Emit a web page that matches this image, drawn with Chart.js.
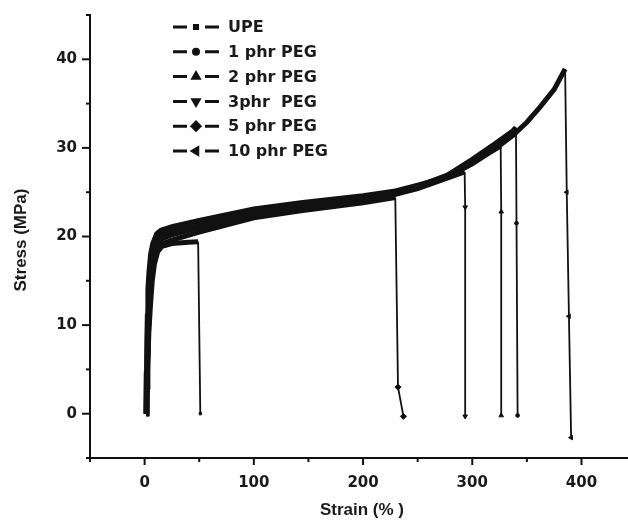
<!DOCTYPE html>
<html>
<head>
<meta charset="utf-8">
<script src="https://cdn.jsdelivr.net/npm/chart.js@4/dist/chart.umd.min.js"></script>
<style>
  body { margin: 0; background: #fff; }
  #wrap { width: 628px; height: 525px; }
</style>
</head>
<body>
<div id="wrap"><canvas id="chart" width="628" height="525"></canvas></div>
<script>
// Serien-Namen (Legende)
const seriesNames = ["UPE", "1 phr PEG", "2 phr PEG", "3phr  PEG", "5 phr PEG", "10 phr PEG"];

// Strain (%) / Stress (MPa)
const strainUPE = [1.5, 2, 3, 4, 5.5, 7, 9, 12, 16, 25, 40, 49, 51];
const stressUPE = [0, 2.5, 6, 9.5, 12.5, 15, 16.9, 18.3, 18.9, 19.2, 19.35, 19.4, 0];

const strain1 = [1.5, 2, 2.5, 3, 4, 5, 6.5, 8, 11, 15, 25, 50, 100, 143, 200, 228, 250, 277, 300, 320, 337, 340, 340.5, 341.5];
const stress1 = [0, 3.2, 6.5, 9.5, 12.5, 14.8, 16.8, 18.1, 19.2, 19.7, 20.2, 21, 22.4, 23.2, 24.1, 24.9, 25.6, 26.9, 28.7, 30.4, 31.9, 32.3, 21.5, -0.2];

const strain2 = [1.5, 2, 2.5, 3, 4, 5, 6.5, 8, 11, 15, 25, 50, 100, 143, 200, 228, 250, 277, 300, 320, 326, 326.5, 326.5];
const stress2 = [0, 4, 7.5, 10.5, 13.5, 15.6, 17.5, 18.8, 19.8, 20.3, 20.7, 21.5, 22.9, 23.6, 24.4, 25, 25.7, 26.9, 28.5, 29.8, 30.2, 22.8, -0.2];

const strain3 = [1.5, 2, 2.5, 3, 4, 5, 6.5, 8, 11, 15, 25, 50, 100, 143, 200, 228, 250, 277, 293, 293.5, 293.5];
const stress3 = [0, 3.5, 7, 10, 13, 15, 17, 18.3, 19.3, 19.8, 20.3, 21.1, 22.6, 23.3, 24.1, 24.7, 25.4, 26.6, 27.3, 23.3, -0.3];

const strain5 = [2, 2.5, 3, 3.5, 4.5, 5.5, 7, 9, 12, 15, 25, 50, 100, 143, 200, 229.5, 232, 237];
const stress5 = [0, 3, 6, 9, 12, 14.2, 16.3, 17.6, 18.7, 19.1, 19.6, 20.5, 22.1, 22.9, 23.8, 24.4, 3, -0.3];

const strain10 = [1, 1.5, 2, 2.5, 3, 4, 5.5, 7.5, 11, 15, 25, 50, 100, 143, 200, 228, 250, 277, 300, 320, 337, 350, 362, 375, 385, 386.5, 388.5, 390.5];
const stress10 = [0, 4.5, 8, 11, 14, 16, 18, 19.2, 20.3, 20.7, 21.1, 21.8, 23.1, 23.8, 24.6, 25.1, 25.8, 26.7, 28.2, 29.8, 31.4, 32.9, 34.6, 36.6, 38.9, 25, 11, -2.7];

const strainSets = [strainUPE, strain1, strain2, strain3, strain5, strain10];
const stressSets = [stressUPE, stress1, stress2, stress3, stress5, stress10];

// Marker je Serie
const markerStyles = ["rect", "circle", "triangle", "triangle", "rectRot", "triangle"];
const markerRotation = [0, 0, 0, 180, 0, -90];
const markerSize = [2.2, 2.5, 3.5, 3.5, 4, 3.5];

const ink = "#111";

function toPoints(xs, ys) {
  return xs.map((x, i) => ({ x: x, y: ys[i] }));
}

// Punkt nur nach dem Bruch anzeigen (wenn Spannung abfällt)
function radiusAfterBreak(ctx) {
  const d = ctx.dataset.data;
  const i = ctx.dataIndex;
  if (i > 0 && d[i].y < d[i - 1].y - 0.5) return markerSize[ctx.datasetIndex] * 0.75;
  return 0;
}

const datasets = seriesNames.map((name, k) => ({
  label: name,
  data: toPoints(strainSets[k], stressSets[k]),
  showLine: true,
  borderColor: ink,
  backgroundColor: ink,
  borderWidth: 5,
  pointStyle: markerStyles[k],
  rotation: markerRotation[k],
  pointRadius: radiusAfterBreak,
  pointBorderWidth: 1,
  tension: 0,
  segment: {
    borderWidth: ctx => (ctx.p1.parsed.y < ctx.p0.parsed.y - 0.5 ? 1.8 : 5)
  }
}));

// Ticks, Achsentitel und Legende selbst zeichnen
const decoPlugin = {
  id: 'deco',
  afterDraw(chart) {
    const c = chart.ctx;
    const xs = chart.scales.x;
    const ys = chart.scales.y;
    const area = chart.chartArea;
    c.save();
    c.strokeStyle = ink;
    c.lineWidth = 2;
    // x-Achse bis zum Bildrand verlaengern
    c.beginPath();
    c.moveTo(area.right - 1, area.bottom);
    c.lineTo(chart.width, area.bottom);
    c.stroke();
    xs.ticks.forEach(t => {
      if (t.value % 50 !== 0) return;
      const px = xs.getPixelForValue(t.value);
      const len = t.value % 100 === 0 ? 7 : 4;
      c.beginPath();
      c.moveTo(px, area.bottom);
      c.lineTo(px, area.bottom + len);
      c.stroke();
    });
    ys.ticks.forEach(t => {
      if (t.value % 5 !== 0) return;
      const py = ys.getPixelForValue(t.value);
      const len = t.value % 10 === 0 ? 8 : 4;
      c.beginPath();
      c.moveTo(area.left, py);
      c.lineTo(area.left - len, py);
      c.stroke();
    });

    // Achsentitel
    c.fillStyle = "#1a1a1a";
    c.font = "bold 17px 'Liberation Sans', Arial, sans-serif";
    c.textAlign = "center";
    c.textBaseline = "middle";
    c.fillText("Strain (% )", 362, 510);
    c.save();
    c.translate(21, 240);
    c.rotate(-Math.PI / 2);
    c.fillText("Stress (MPa)", 0, 0);
    c.restore();

    // Legende
    c.font = "bold 16px 'DejaVu Sans', sans-serif";
    c.textAlign = "left";
    chart.data.datasets.forEach((ds, i) => {
      const y = 27 + i * 24.8;
      c.lineWidth = 3;
      c.beginPath();
      c.moveTo(173, y);
      c.lineTo(187, y);
      c.moveTo(205, y);
      c.lineTo(219, y);
      c.stroke();
      c.fillStyle = ink;
      Chart.helpers.drawPoint(c, {
        pointStyle: markerStyles[i],
        rotation: markerRotation[i],
        radius: markerSize[i],
        borderWidth: 1
      }, 196, y);
      c.fillStyle = "#1a1a1a";
      c.fillText(ds.label, 228, y + 1);
    });
    c.restore();
  }
};

const tickFont = { family: "'DejaVu Sans', sans-serif", size: 15, weight: 'bold' };

new Chart(document.getElementById('chart'), {
  type: 'scatter',
  data: { datasets: datasets },
  options: {
    responsive: false,
    animation: false,
    layout: { padding: { top: 15, right: 0, left: 0, bottom: 0 } },
    plugins: { legend: { display: false }, tooltip: { enabled: false } },
    scales: {
      x: {
        type: 'linear',
        min: -50,
        max: 438,
        afterFit: s => { s.height = 67; s.paddingLeft = 0; s.paddingRight = 0; },
        grid: { display: false, drawTicks: false },
        border: { display: true, color: ink, width: 2 },
        ticks: {
          stepSize: 50,
          padding: 16,
          color: "#1a1a1a",
          font: tickFont,
          maxRotation: 0,
          autoSkip: false,
          callback: v => (v % 100 === 0 ? v : '')
        }
      },
      y: {
        type: 'linear',
        min: -5,
        max: 45,
        afterFit: s => { s.width = 90; s.paddingTop = 0; s.paddingBottom = 0; },
        grid: { display: false, drawTicks: false },
        border: { display: true, color: ink, width: 2 },
        ticks: {
          stepSize: 5,
          padding: 13,
          color: "#1a1a1a",
          font: tickFont,
          autoSkip: false,
          callback: v => (v % 10 === 0 ? v : '')
        }
      }
    }
  },
  plugins: [decoPlugin]
});
</script>
</body>
</html>
